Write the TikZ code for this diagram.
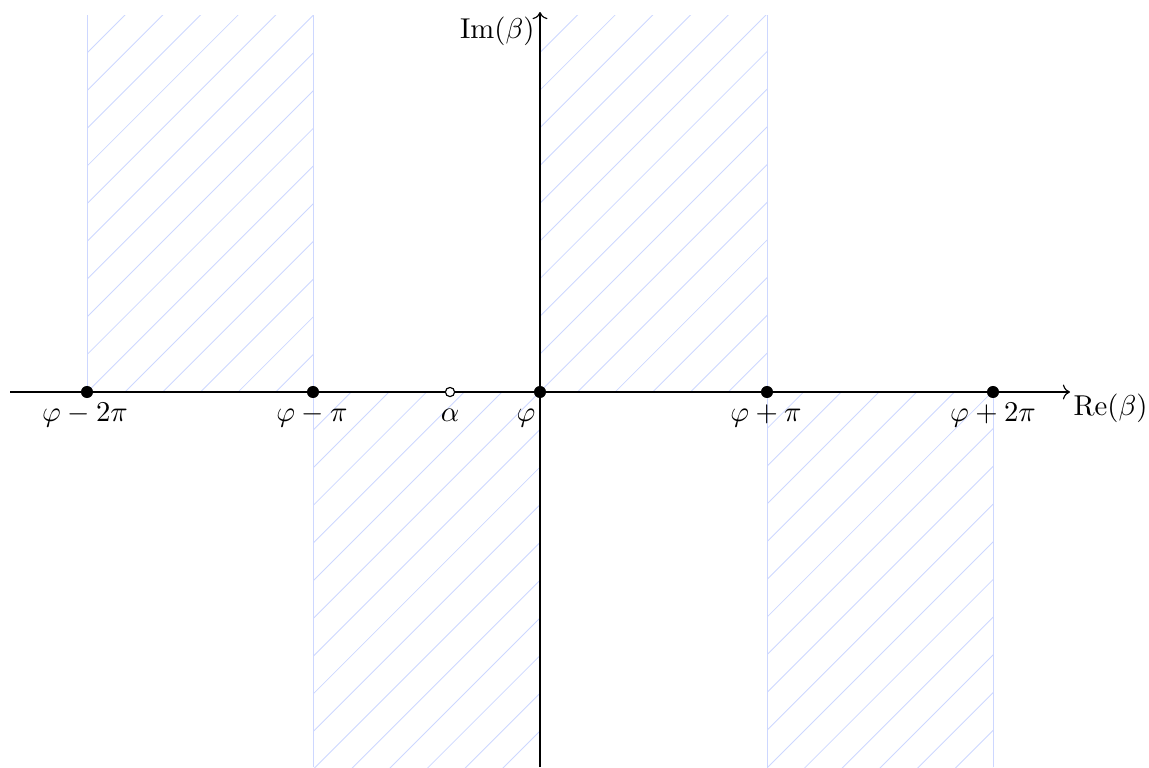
\documentclass[tikz,border=0pt]{standalone}
\usetikzlibrary{arrows.meta}
\definecolor{hatchblue}{RGB}{205,215,255}
\tikzset{
  hatchline/.style={draw=hatchblue, line width=0.3pt},
  axisline/.style={draw=black, line width=0.4pt, ->},
  fulldot/.style={circle, fill=black, inner sep=0pt, minimum size=4.2pt},
  opendot/.style={circle, draw=black, fill=white, inner sep=0pt, minimum size=3.2pt, line width=0.4pt},
  lab/.style={anchor=base, inner sep=0pt}
}
\begin{document}
\begin{tikzpicture}[x=0.3484pt, y=-0.3484pt]
\useasboundingbox (0,0) rectangle (1149,767);
% hatched regions
\foreach \xa/\xb/\ya/\yb in {87/313/15/392, 540/767/15/392, 313/540/392/767, 767/993/392/767}{
  \begin{scope}
    \clip (\xa,\ya) rectangle (\xb,\yb);
    \foreach \k in {-5,...,52}{
      \pgfmathsetmacro\c{140+37.7*\k}
      \draw[hatchline] (\c,0) -- (\c-800,800);
    }
  \end{scope}
}
\draw[hatchline] (87,15) -- (87,392);
\draw[hatchline] (313,15) -- (313,767);
\draw[hatchline] (540,15) -- (540,392);
\draw[hatchline] (767,15) -- (767,767);
\draw[hatchline] (993,392) -- (993,767);
% axes
\coordinate (xs) at (10,392);
\coordinate (xe) at (1070,392);
\coordinate (ys) at (540,767);
\coordinate (ye) at (540,12);
\draw[axisline] (xs) -- (xe);
\draw[axisline] (ys) -- (ye);
\node[anchor=base west, inner sep=0pt] (re) at (1073,415) {$\mathrm{Re}(\beta)$};
\node[anchor=base east, inner sep=0pt] (im) at (535,38) {$\mathrm{Im}(\beta)$};
% points
\node[fulldot] (m2) at (87,392) {};
\node[fulldot] (m1) at (313,392) {};
\node[opendot] (al) at (450,392) {};
\node[fulldot] (ph) at (540,392) {};
\node[fulldot] (p1) at (767,392) {};
\node[fulldot] (p2) at (993,392) {};
% labels
\node[lab] (lm2) at (85,421) {$\varphi-2\pi$};
\node[lab] (lm1) at (312,421) {$\varphi-\pi$};
\node[lab] (lal) at (450,421) {$\alpha$};
\node[lab, anchor=base east] (lph) at (536,421) {$\varphi$};
\node[lab] (lp1) at (766,421) {$\varphi+\pi$};
\node[lab] (lp2) at (993,421) {$\varphi+2\pi$};
\end{tikzpicture}
\end{document}
